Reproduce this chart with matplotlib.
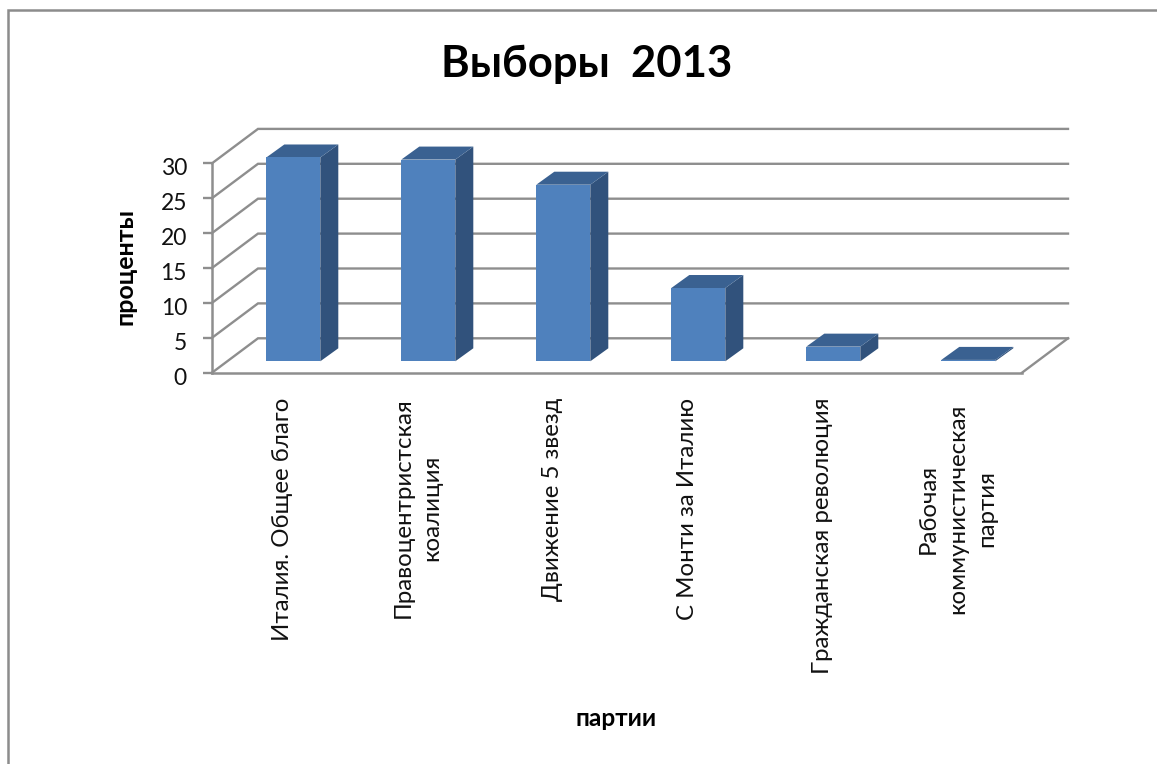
import matplotlib
matplotlib.use("Agg")
import matplotlib.pyplot as plt
from matplotlib.lines import Line2D
from matplotlib.patches import Polygon
from matplotlib.transforms import ScaledTranslation

plt.rcParams['font.family'] = ['Lato', 'Open Sans', 'DejaVu Sans']

parties = ["Италия. Общее благо", "Правоцентристская\nкоалиция", "Движение 5 звезд",
           "С Монти за Италию", "Гражданская революция", "Рабочая\nкоммунистическая\nпартия"]
percents = [29.2, 28.9, 25.3, 10.5, 2.1, 0.2]
y_ticks = [0, 5, 10, 15, 20, 25, 30]

W, H = 1157, 764
fig = plt.figure(figsize=(W / 100, H / 100), dpi=100, facecolor='white')
L, R, B, T = 212, 1022, 372.7, 163.3
ax = fig.add_axes([L / W, 1 - B / H, (R - L) / W, (B - T) / H])
ax.set_xlim(0, len(parties))
ax.set_ylim(0, 30)
ax.patch.set_visible(False)

GRID = '#8e8e8e'
DEPTH_X = 46 / 135
DEPTH_Y = 34.4 / 6.98
n = len(parties)

for v in y_ticks:
    ax.plot([0, DEPTH_X, n + DEPTH_X], [v, v + DEPTH_Y, v + DEPTH_Y], color=GRID, lw=1.7,
            clip_on=False, zorder=1, solid_joinstyle='miter')
ax.plot([n, n + DEPTH_X], [0, DEPTH_Y], color=GRID, lw=1.7, clip_on=False, zorder=1)

FRONT, SIDE, TOP = '#4f81bd', '#31527c', '#3a6191'
bar_w = 54 / 135
off_x = 0.30 * DEPTH_X
off_y = 11.4 / 6.98
dep_x = 18 / 135
dep_y = 13 / 6.98
for i, v in enumerate(percents):
    x0 = i + 0.5 + off_x - bar_w / 2
    x1 = x0 + bar_w
    y0, y1 = off_y, off_y + v
    ax.add_patch(Polygon([(x1, y0), (x1 + dep_x, y0 + dep_y), (x1 + dep_x, y1 + dep_y), (x1, y1)],
                         closed=True, fc=SIDE, ec='none', lw=0, clip_on=False, zorder=3))
    ax.add_patch(Polygon([(x0, y1), (x1, y1), (x1 + dep_x, y1 + dep_y), (x0 + dep_x, y1 + dep_y)],
                         closed=True, fc=TOP, ec='none', lw=0, clip_on=False, zorder=3))
    ax.bar(i + 0.5 + off_x, v, width=bar_w, bottom=off_y, color=FRONT, lw=0, zorder=4, clip_on=False)

for s in ('top', 'right'):
    ax.spines[s].set_visible(False)
for s in ('left', 'bottom'):
    ax.spines[s].set_color(GRID)
    ax.spines[s].set_linewidth(1.8)

ax.set_yticks(y_ticks)
ax.set_yticklabels([str(v) for v in y_ticks], fontsize=16.5, color='#111111')
ax.tick_params(axis='y', length=6.5, width=1.7, color=GRID, pad=11.5)
for lab in ax.get_yticklabels():
    lab.set_transform(lab.get_transform() + ScaledTranslation(0, -3.5 / 100, fig.dpi_scale_trans))
ax.set_xticks([i + 0.5 for i in range(n)])
ax.set_xticklabels(parties, rotation=90, fontsize=17.3, color='#111111', ha='center', va='top',
                   multialignment='center', linespacing=1.5)
ax.tick_params(axis='x', length=0, pad=18)
x_labels = ax.get_xticklabels()
for i, lab in enumerate(x_labels):
    dy = -6 if i == n - 1 else 0
    lab.set_transform(lab.get_transform() + ScaledTranslation(3 / 100, dy / 100, fig.dpi_scale_trans))

fig.text(587 / W, 1 - 64 / H, "Выборы  2013", fontsize=31.4, fontweight='bold', ha='center', va='center')
fig.text(125 / W, 1 - 267 / H, "проценты", fontsize=18, fontweight='bold', rotation=90, ha='center', va='center')
fig.text(616 / W, 1 - 719 / H, "партии", fontsize=17.6, fontweight='bold', ha='center', va='center')

fig.add_artist(Line2D([8 / W, 8 / W, 1], [0, 1 - 10 / H, 1 - 10 / H], transform=fig.transFigure,
                      color='#8c8c8c', lw=1.8, solid_joinstyle='miter'))

fig.savefig('out.png', dpi=100)
